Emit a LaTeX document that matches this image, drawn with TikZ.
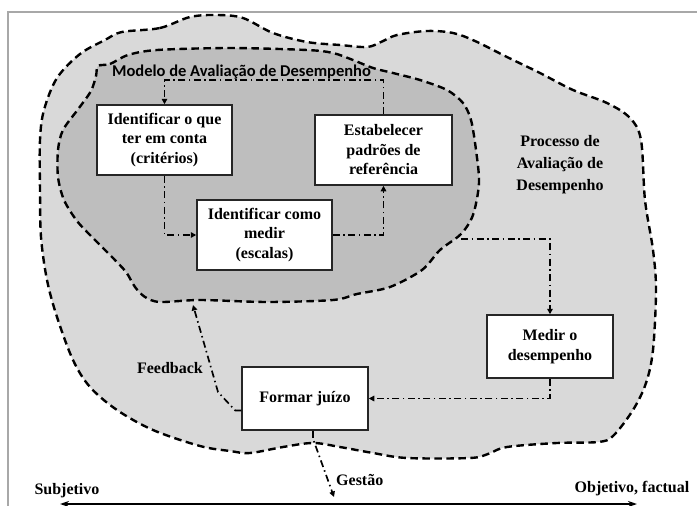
\documentclass[tikz,border=0pt]{standalone}
\usepackage{fontspec}
\setmainfont{Liberation Serif}[BoldFont={Liberation Serif Bold}]
\newfontfamily\boxfont{Liberation Serif Bold}
\newfontfamily\modelfont{Carlito}[BoldFont={Carlito Bold}]
\usetikzlibrary{arrows.meta,calc}
\definecolor{outerfill}{HTML}{D9D9D9}
\definecolor{innerfill}{HTML}{BEBEBE}
\definecolor{framegray}{HTML}{A8A8A8}
\tikzset{
  blob/.style={draw=black, line width=2.4pt, dash pattern=on 7.5pt off 4.5pt},
  stepbox/.style={draw=black!85, line width=1.5pt, fill=white, align=center,
    inner sep=2pt, font=\boxfont\fontsize{16}{19.5}\selectfont},
  flow/.style={line width=1.7pt, dash pattern=on 7pt off 3.5pt on 1.5pt off 3.5pt,
    -{Triangle[length=5.5pt,width=5.5pt]}},
  lbl/.style={font=\boxfont\fontsize{16}{19.5}\selectfont, inner sep=0pt},
  axisline/.style={line width=1.8pt, {Stealth[length=9pt,width=6pt]}-{Stealth[length=9pt,width=6pt]}}
}
\begin{document}
\begin{tikzpicture}[x=1pt,y=-1pt]
\useasboundingbox (0,0) rectangle (697,506);
\fill[white] (0,0) rectangle (697,506);

% page frame
\draw[framegray, line width=1.5pt] (8,506) -- (8,12) -- (697,12);

% outer region: evaluation process
\filldraw[blob, fill=outerfill] plot[smooth cycle, tension=0.55] coordinates {
  (122,32) (160,28) (190,17) (217,15) (243,18) (273,33) (307,42) (340,45)
  (367,47) (381,42) (397,35) (427,31) (453,33) (475,41) (507,57) (540,73)
  (573,90) (607,103) (630,118) (641,140) (645,200) (653,250) (656,290)
  (653,350) (646,383) (633,410) (613,436) (598,442) (557,443) (507,447)
  (488,454) (470,458) (407,458) (373,453) (340,447) (313,443) (283,447)
  (250,453) (230,451) (200,446) (153,430) (117,410) (90,387) (73,360)
  (57,317) (47,280) (41,237) (40,190) (40,140) (44,110) (57,78) (80,54)
  (105,40)};

% inner region: evaluation model
\filldraw[blob, fill=innerfill] plot[smooth cycle, tension=0.5] coordinates {
  (98,66) (110,64) (128,55) (157,50) (230,48) (307,50) (333,53) (353,60)
  (373,68) (393,73) (420,80) (447,90) (463,103) (471,120) (476,150)
  (479,183) (473,215) (461,234) (440,250) (422,270) (390,287) (357,294)
  (333,300) (267,302) (200,300) (160,302) (145,297) (135,287) (126,272)
  (112,257) (93,238) (77,221) (64,200) (58,177) (58,150) (63,130) (79,108)
  (91,91) (96,76)};

\node[anchor=west, inner sep=0pt, text=black,
  font=\modelfont\bfseries\fontsize{16.5}{18}\selectfont] (model) at (112,72)
  {Modelo de Avaliação de Desempenho};

% steps
\node[stepbox, minimum width=135pt, minimum height=70pt] (b1) at (164.5,140)
  {Identificar o que\\ter em conta\\(critérios)};
\node[stepbox, minimum width=135pt, minimum height=70pt] (b2) at (264.5,235)
  {Identificar como\\medir\\(escalas)};
\node[stepbox, minimum width=137pt, minimum height=70pt] (b3) at (383.5,150)
  {Estabelecer\\padrões de\\referência};
\node[stepbox, minimum width=126pt, minimum height=63pt] (b4) at (550,346.5)
  {Medir o\\desempenho};
\node[stepbox, minimum width=126pt, minimum height=63pt] (b5) at (305,398.5)
  {Formar juízo};

% flow between steps
\coordinate (top) at (0,80);
\draw[flow] (b3.north) -- (b3.north |- top) -- (b1.north |- top) -- (b1.north);
\draw[flow] (b1.south) |- (b2.west);
\draw[flow] (b2.east) -| (b3.south);
\coordinate (m0) at (461,239);
\draw[flow] (m0) -| (b4.north);
\draw[flow] (b4.south) |- (b5.east);

% feedback to the model
\coordinate (fbk) at (218,392);
\coordinate (fb) at (193,305);
\draw[flow] ([yshift=-12pt]b5.west) -- ++(-6,0) -- (fbk) -- (fb);
\node[lbl] (feedback) at (170,368) {Feedback};

% management output
\coordinate (g) at (334,497);
\draw[flow] ([xshift=8pt]b5.south) -- ++(0,8) -- (g);
\node[lbl, anchor=west] (gestao) at (336,480) {Gestão};

% subjective - objective axis
\coordinate (axL) at (60,504);
\coordinate (axR) at (637,504);
\draw[axisline] (axL) -- (axR);
\node[lbl] (subj) at (67,491) {Subjetivo};
\node[lbl] (obj) at (632,489) {Objetivo, factual};

% process label
\node[lbl, align=center, font=\boxfont\fontsize{16}{22}\selectfont] (proc) at (560,165)
  {Processo de\\Avaliação de\\Desempenho};
\end{tikzpicture}
\end{document}
